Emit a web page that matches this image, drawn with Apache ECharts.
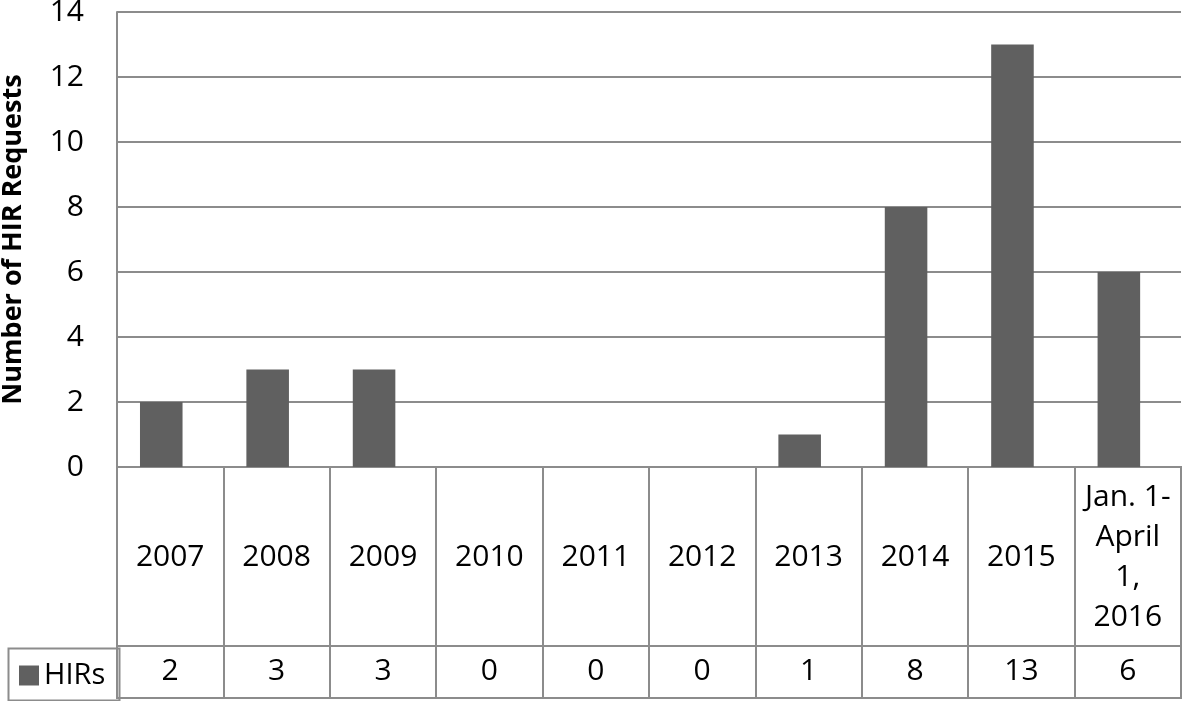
<!DOCTYPE html>
<html>
<head>
<meta charset="utf-8">
<script src="https://cdn.jsdelivr.net/npm/echarts@6/dist/echarts.min.js"></script>
<style>
  html, body { margin: 0; padding: 0; background: #fff; }
  #chart { width: 1183px; height: 701px; }
</style>
</head>
<body>
<div id="chart"></div>
<script>
// data
var categories = ['2007', '2008', '2009', '2010', '2011', '2012', '2013', '2014', '2015', 'Jan. 1-\nApril\n1,\n2016'];
var hirs = [2, 3, 3, 0, 0, 0, 1, 8, 13, 6];
var seriesName = 'HIRs';
var yTicks = { min: 0, max: 14, interval: 2 };

var lineColor = '#8c8c8c';
var barColor = '#606060';
var font = '"Open Sans", Lato, sans-serif';
var fs = 30;

var chart = echarts.init(document.getElementById('chart'));

var option = {
  animation: false,
  textStyle: { fontFamily: font },
  legend: {
    left: 14,
    top: 656,
    itemWidth: 20,
    itemHeight: 20,
    icon: 'rect',
    itemGap: 4,
    textStyle: { fontSize: 29, color: '#000', fontFamily: font },
    data: [seriesName]
  },
  grid: [
    // plot
    { left: 117, right: 2, top: 12, height: 455, outerBoundsMode: 'none' },
    // category row of the data table
    { left: 117, right: 2, top: 467, height: 179, outerBoundsMode: 'none', show: true, borderColor: lineColor, borderWidth: 2 },
    // value row of the data table
    { left: 117, right: 2, top: 646, height: 52, outerBoundsMode: 'none', show: true, borderColor: lineColor, borderWidth: 2 }
  ],
  xAxis: [
    {
      gridIndex: 0, type: 'category', data: categories,
      axisLine: { show: false }, axisTick: { show: false }, axisLabel: { show: false }
    },
    {
      gridIndex: 1, type: 'category', data: categories,
      axisLine: { show: false }, axisTick: { show: false },
      splitLine: { show: true, interval: 0, lineStyle: { color: lineColor, width: 2 } },
      axisLabel: {
        interval: 0, margin: -89, verticalAlign: 'middle', align: 'center',
        fontSize: fs, lineHeight: 40, color: '#000', fontFamily: font
      }
    },
    {
      gridIndex: 2, type: 'category', data: categories,
      axisLine: { show: false }, axisTick: { show: false },
      splitLine: { show: true, interval: 0, lineStyle: { color: lineColor, width: 2 } },
      axisLabel: {
        interval: 0, margin: -27, verticalAlign: 'middle', align: 'center',
        fontSize: fs, color: '#000', fontFamily: font,
        formatter: function (v, i) { return String(hirs[i]); }
      }
    }
  ],
  yAxis: [
    {
      gridIndex: 0, type: 'value', min: yTicks.min, max: yTicks.max, interval: yTicks.interval,
      name: 'Number of HIR Requests', nameLocation: 'middle', nameGap: 90,
      nameTextStyle: { fontSize: 27, fontWeight: 'bold', color: '#000', fontFamily: font },
      axisLine: { show: true, lineStyle: { color: lineColor, width: 2 } },
      axisTick: { show: false },
      axisLabel: { margin: 33, fontSize: fs, color: '#000', fontFamily: font },
      splitLine: { show: true, lineStyle: { color: lineColor, width: 2 } }
    },
    { gridIndex: 1, type: 'value', show: false },
    { gridIndex: 2, type: 'value', show: false }
  ],
  series: [
    {
      name: seriesName,
      type: 'bar',
      xAxisIndex: 0, yAxisIndex: 0,
      data: hirs,
      barWidth: '40%',
      barGap: '-58%',
      itemStyle: { color: barColor }
    },
    // empty companion series: in the original the bars sit a little left of each column's centre
    {
      name: 'pad',
      type: 'bar',
      xAxisIndex: 0, yAxisIndex: 0,
      data: hirs.map(function () { return '-'; }),
      barWidth: '40%',
      silent: true
    }
  ],
  graphic: [
    // outline of the legend cell in the table
    {
      type: 'rect', left: 6, top: 646,
      shape: { width: 111, height: 52 },
      style: { fill: null, stroke: lineColor, lineWidth: 2 }
    }
  ]
};

chart.setOption(option);
window.addEventListener('resize', function () { chart.resize(); });
</script>
</body>
</html>
